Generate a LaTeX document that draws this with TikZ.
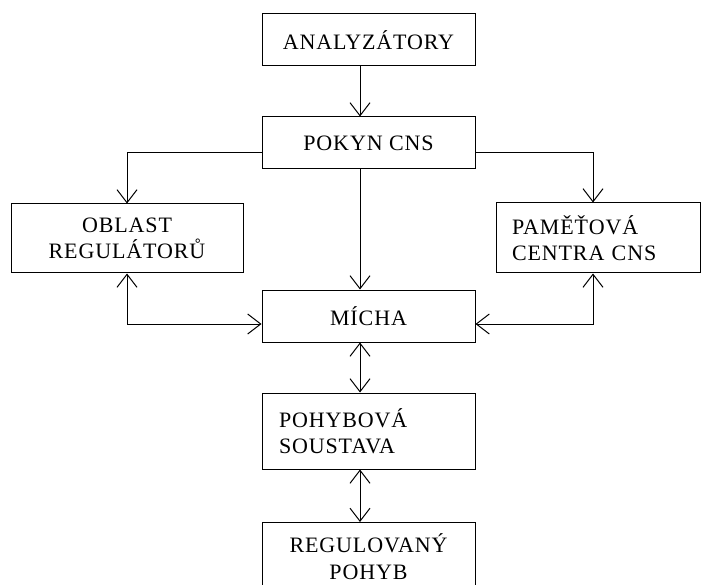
\documentclass[tikz,border=0pt]{standalone}
\usepackage{fontspec}
\setmainfont{Liberation Serif}[LetterSpace=4]
\usetikzlibrary{arrows.meta,calc}
\begin{document}
\begin{tikzpicture}[x=1pt,y=-1pt,
  font=\fontsize{22}{26.5}\selectfont,
  box/.style={draw, line width=1pt, inner sep=0pt, align=center},
  barb/.tip={Straight Barb[length=13pt,width=20pt,line width=1pt]},
  arr/.style={line width=1pt, -barb},
  darr/.style={line width=1pt, barb-barb}]
\useasboundingbox (0,0) rectangle (701,585);
\clip (0,0) rectangle (701,585);
\fill[white] (0,0) rectangle (701,585);
\coordinate (xm) at (360,0);
\coordinate (xl) at (127,0);
\coordinate (xr) at (593,0);
\node[box, minimum width=213pt, minimum height=52pt] (ana) at (368.5,40) {ANALYZÁTORY};
\node[box, minimum width=213pt, minimum height=52pt] (pok) at (368.5,143) {POKYN CNS};
\node[box, minimum width=232pt, minimum height=69pt] (obl) at (127,238.5) {OBLAST\\REGULÁTORŮ};
\node[box, minimum height=70pt, inner xsep=16pt, text width=172pt, align=left] (pam) at (598,238) {PAMĚŤOVÁ\\CENTRA CNS};
\node[box, minimum width=213pt, minimum height=52pt] (mic) at (368.5,316) {MÍCHA};
\node[box, minimum height=76pt, inner xsep=17pt, text width=179pt, align=left] (poh) at (368.5,431) {POHYBOVÁ\\SOUSTAVA};
\node[box, minimum width=213pt, minimum height=68pt, anchor=north] (reg) at (368.5,522) {REGULOVANÝ\\POHYB};
\draw[arr] (ana.south -| xm) -- (pok.north -| xm);
\draw[arr] ([yshift=-10pt]pok.west) -| (obl.north -| xl);
\draw[arr] ([yshift=-10pt]pok.east) -| (pam.north -| xr);
\draw[arr] (pok.south -| xm) -- (mic.north -| xm);
\draw[darr] (obl.south -| xl) |- ([yshift=-8pt]mic.west);
\draw[darr] (pam.south -| xr) |- ([yshift=-8pt]mic.east);
\draw[darr] (mic.south -| xm) -- (poh.north -| xm);
\draw[darr] (poh.south -| xm) -- (reg.north -| xm);
\end{tikzpicture}
\end{document}
